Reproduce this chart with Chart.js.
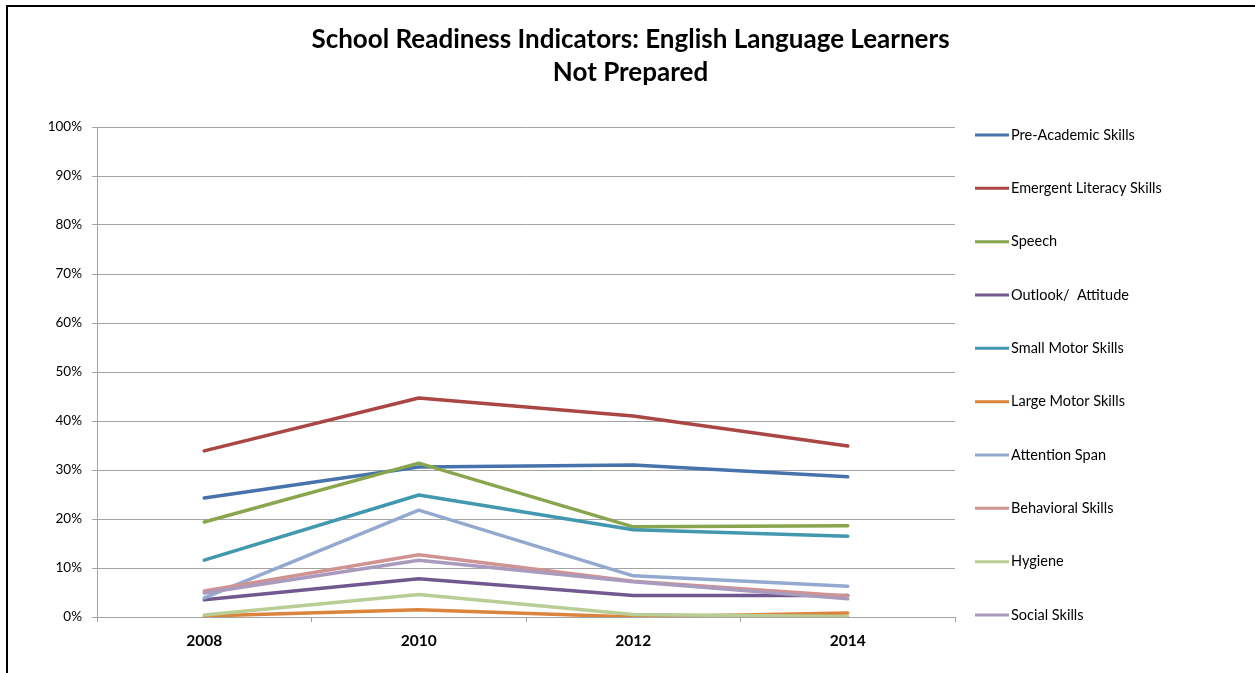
<!DOCTYPE html>
<html>
<head>
<meta charset="utf-8">
<title>School Readiness Indicators</title>
<script src="https://cdn.jsdelivr.net/npm/chart.js@4.4.1/dist/chart.umd.min.js"></script>
<style>
  html, body { margin: 0; padding: 0; background: #fff; overflow: hidden; }
  #frame {
    position: absolute; left: 6px; top: 5px; width: 1300px; height: 700px;
    border-left: 2px solid #000; border-top: 2px solid #000;
  }
  #chart { position: absolute; left: 0; top: 0; }
</style>
</head>
<body>
<div id="frame"></div>
<canvas id="chart" width="1255" height="673"></canvas>
<script>
// survey years
const years = ['2008', '2010', '2012', '2014'];

// share of English language learners not prepared, in percent
const preAcademic    = [24.3, 30.6, 31.0, 28.6];
const emergentLit    = [33.9, 44.7, 41.0, 34.9];
const speech         = [19.4, 31.4, 18.4, 18.6];
const outlook        = [3.5, 7.8, 4.4, 4.4];
const smallMotor     = [11.6, 24.9, 17.8, 16.5];
const largeMotor     = [0.2, 1.5, 0.0, 0.8];
const attentionSpan  = [3.9, 21.8, 8.4, 6.3];
const behavioral     = [5.3, 12.7, 7.3, 4.3];
const hygiene        = [0.4, 4.6, 0.5, 0.1];
const socialSkills   = [4.9, 11.6, 7.2, 3.7];

const seriesNames = ['Pre-Academic Skills', 'Emergent Literacy Skills', 'Speech', 'Outlook/  Attitude',
  'Small Motor Skills', 'Large Motor Skills', 'Attention Span', 'Behavioral Skills', 'Hygiene', 'Social Skills'];
const seriesData = [preAcademic, emergentLit, speech, outlook, smallMotor, largeMotor,
  attentionSpan, behavioral, hygiene, socialSkills];
const seriesColors = ['#4673AB', '#AA4643', '#89A54E', '#71588F', '#4198AF',
  '#DB843D', '#93A9CF', '#D19392', '#B9CD96', '#A99BBD'];

const titleLines = ['School Readiness Indicators: English Language Learners', 'Not Prepared'];

// y axis ticks
const yMin = 0, yMax = 100, yStep = 10;

const gridGray = '#a3a3a3';
const fontFamily = 'Lato, "Liberation Sans", sans-serif';

// title centred on the whole canvas, legend down the right side
const titleAndLegend = {
  id: 'titleAndLegend',
  afterDraw(chart) {
    const ctx = chart.ctx;
    const area = chart.chartArea;
    ctx.save();
    ctx.fillStyle = '#000';
    ctx.textAlign = 'center';
    ctx.textBaseline = 'middle';
    ctx.font = 'bold 26px ' + fontFamily;
    titleLines.forEach((line, i) => ctx.fillText(line, chart.width / 2 + 3, 40 + i * 33));

    const x0 = area.right + 20;
    const step = (area.bottom - area.top - 10) / (seriesNames.length - 1);
    ctx.textAlign = 'left';
    ctx.font = '14.5px ' + fontFamily;
    ctx.lineWidth = 3;
    seriesNames.forEach((name, i) => {
      const y = area.top + 8 + i * step;
      ctx.strokeStyle = seriesColors[i];
      ctx.beginPath();
      ctx.moveTo(x0, y);
      ctx.lineTo(x0 + 34, y);
      ctx.stroke();
      ctx.fillText(name, x0 + 36, y);
    });
    ctx.restore();
  }
};

new Chart(document.getElementById('chart'), {
  type: 'line',
  data: {
    labels: years,
    datasets: seriesNames.map((name, i) => ({
      label: name,
      data: seriesData[i],
      borderColor: seriesColors[i],
      backgroundColor: seriesColors[i],
      borderWidth: 3.5,
      borderCapStyle: 'round',
      borderJoinStyle: 'round',
      pointRadius: 0,
      tension: 0,
      order: seriesNames.length - 1 - i
    }))
  },
  options: {
    responsive: false,
    animation: false,
    layout: { padding: { left: 0, right: 300, top: 127, bottom: 22 } },
    plugins: {
      legend: { display: false },
      tooltip: { enabled: false },
      title: { display: false }
    },
    scales: {
      x: {
        offset: true,
        afterFit(scale) { scale.height = 34; },
        grid: { offset: true, drawOnChartArea: false, color: gridGray, tickLength: 5 },
        border: { color: gridGray },
        ticks: { color: '#000', padding: 10, font: { family: fontFamily, size: 15.5, weight: 'bold' } }
      },
      y: {
        min: yMin,
        max: yMax,
        afterFit(scale) { scale.width = 97; },
        grid: { color: gridGray, tickLength: 5 },
        border: { color: gridGray },
        ticks: {
          stepSize: yStep,
          color: '#000',
          padding: 10,
          font: { family: fontFamily, size: 13.5 },
          callback: v => v + '%'
        }
      }
    }
  },
  plugins: [titleAndLegend]
});
</script>
</body>
</html>
